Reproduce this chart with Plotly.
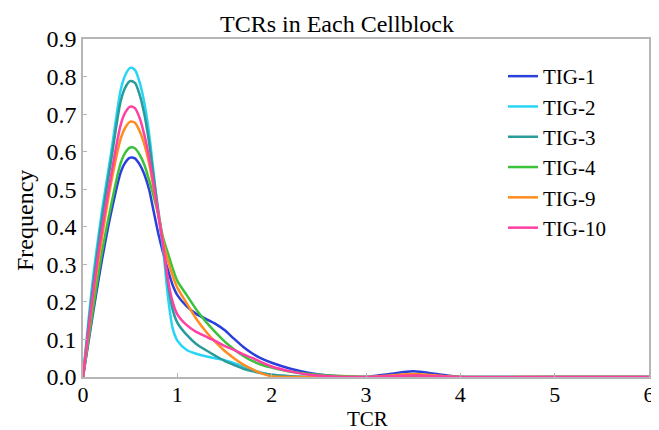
import plotly.graph_objects as go

x_vals = [0.0, 0.1, 0.2, 0.3, 0.4, 0.45, 0.5, 0.55, 0.6, 0.65, 0.7, 0.75, 0.8, 0.85, 0.9, 0.95, 1.0, 1.1, 1.2, 1.3, 1.4, 1.5, 1.6, 1.7, 1.8, 1.9, 2.0, 2.2, 2.4, 2.6, 2.8, 3.0, 3.25, 3.5, 3.75, 4.0, 5.0, 6.0]

tig1 = [0.0, 0.16, 0.31, 0.44, 0.545, 0.572, 0.584, 0.582, 0.566, 0.54, 0.50, 0.44, 0.38, 0.33, 0.285, 0.245, 0.218, 0.188, 0.168, 0.155, 0.142, 0.125, 0.102, 0.080, 0.062, 0.048, 0.038, 0.022, 0.011, 0.004, 0.001, 0.0, 0.008, 0.015, 0.008, 0.0, 0.0, 0.0]
tig2 = [0.0, 0.25, 0.44, 0.60, 0.765, 0.805, 0.823, 0.818, 0.785, 0.73, 0.65, 0.54, 0.43, 0.34, 0.215, 0.13, 0.097, 0.072, 0.062, 0.055, 0.050, 0.045, 0.037, 0.028, 0.019, 0.011, 0.006, 0.001, 0.0, 0.0, 0.0, 0.0, 0.0, 0.0, 0.0, 0.0, 0.0, 0.0]
tig3 = [0.0, 0.23, 0.42, 0.58, 0.735, 0.772, 0.788, 0.783, 0.752, 0.70, 0.625, 0.53, 0.44, 0.35, 0.25, 0.18, 0.145, 0.112, 0.088, 0.072, 0.057, 0.043, 0.032, 0.022, 0.015, 0.010, 0.006, 0.002, 0.0, 0.0, 0.0, 0.0, 0.0, 0.0, 0.0, 0.0, 0.0, 0.0]
tig4 = [0.0, 0.17, 0.33, 0.46, 0.57, 0.598, 0.611, 0.609, 0.592, 0.565, 0.525, 0.48, 0.43, 0.37, 0.33, 0.29, 0.256, 0.218, 0.18, 0.148, 0.12, 0.095, 0.074, 0.056, 0.042, 0.032, 0.025, 0.014, 0.008, 0.004, 0.002, 0.0, 0.0, 0.0, 0.0, 0.0, 0.0, 0.0]
tig9 = [0.0, 0.20, 0.37, 0.52, 0.635, 0.665, 0.68, 0.677, 0.655, 0.62, 0.57, 0.50, 0.43, 0.36, 0.31, 0.27, 0.238, 0.196, 0.155, 0.122, 0.094, 0.070, 0.050, 0.033, 0.020, 0.009, 0.002, 0.0, 0.0, 0.0, 0.0, 0.0, 0.004, 0.008, 0.004, 0.0, 0.0, 0.0]
tig10 = [0.0, 0.21, 0.39, 0.54, 0.672, 0.705, 0.72, 0.716, 0.69, 0.645, 0.585, 0.51, 0.43, 0.35, 0.26, 0.20, 0.167, 0.138, 0.12, 0.108, 0.096, 0.083, 0.072, 0.060, 0.050, 0.038, 0.028, 0.015, 0.006, 0.002, 0.0, 0.0, 0.002, 0.004, 0.002, 0.0, 0.0, 0.0]

series_names = ["TIG-1", "TIG-2", "TIG-3", "TIG-4", "TIG-9", "TIG-10"]
series_vals = [tig1, tig2, tig3, tig4, tig9, tig10]
colors = ["#2B3FDB", "#27D6F5", "#2A9A9A", "#3BC23B", "#FF8C1F", "#FF3FA3"]

x_ticks = [0, 1, 2, 3, 4, 5, 6]
y_ticks = [0.0, 0.1, 0.2, 0.3, 0.4, 0.5, 0.6, 0.7, 0.8, 0.9]

FONT = "Liberation Serif, Times New Roman, serif"
# the page body has an 8px default margin; figure is sized to fill the window
OFF = 8
W, H = 659 - OFF, 430 - OFF
L, R, T, B = 83 - OFF, 10, 39 - OFF, 53
PW, PH = W - L - R, H - T - B


def px(xp):
    return (xp - 83) / PW


def py(yp):
    return (377 - yp) / PH


fig = go.Figure()
for name, vals, col in zip(series_names, series_vals, colors):
    fig.add_trace(go.Scatter(x=x_vals, y=vals, name=name, mode="lines",
                             line=dict(color=col, width=2.5, shape="spline", smoothing=0.8)))

fig.update_layout(
    width=W, height=H,
    margin=dict(l=L, r=R, t=T, b=B, autoexpand=False),
    paper_bgcolor="white", plot_bgcolor="white",
    font=dict(family=FONT, color="black"),
    showlegend=True,
    legend=dict(x=px(503), y=py(56), xanchor="left", yanchor="top",
                font=dict(family=FONT, size=21, color="black"),
                bgcolor="rgba(0,0,0,0)", itemwidth=30, tracegroupgap=0),
    annotations=[
        dict(text="TCRs in Each Cellblock", xref="paper", yref="paper",
             x=px(337), y=py(24), xanchor="center", yanchor="middle",
             showarrow=False, font=dict(family=FONT, size=24, color="black")),
        dict(text="TCR", xref="paper", yref="paper",
             x=px(367), y=py(419), xanchor="center", yanchor="middle",
             showarrow=False, font=dict(family=FONT, size=21, color="black")),
        dict(text="Frequency", xref="paper", yref="paper", textangle=-90,
             x=px(25), y=py(220), xanchor="center", yanchor="middle",
             showarrow=False, font=dict(family=FONT, size=24, color="black")),
    ],
)
fig.update_xaxes(range=[0, 6], tickvals=x_ticks, ticktext=[str(v) for v in x_ticks],
                 automargin=False, ticklabelstandoff=-3,
                 showgrid=False, zeroline=False, showline=True, mirror=True,
                 linecolor="#b5b5b5", linewidth=1.5, ticks="inside", ticklen=4,
                 tickcolor="#b5b5b5", tickfont=dict(family=FONT, size=22, color="black"))
fig.update_yaxes(range=[0, 0.9], tickvals=y_ticks, ticktext=[f"{v:.1f}" for v in y_ticks],
                 automargin=False,
                 showgrid=False, zeroline=False, showline=True, mirror=True,
                 linecolor="#b5b5b5", linewidth=1.5, ticks="inside", ticklen=4,
                 tickcolor="#b5b5b5", tickfont=dict(family=FONT, size=24, color="black"))

fig.write_html("out.html")
